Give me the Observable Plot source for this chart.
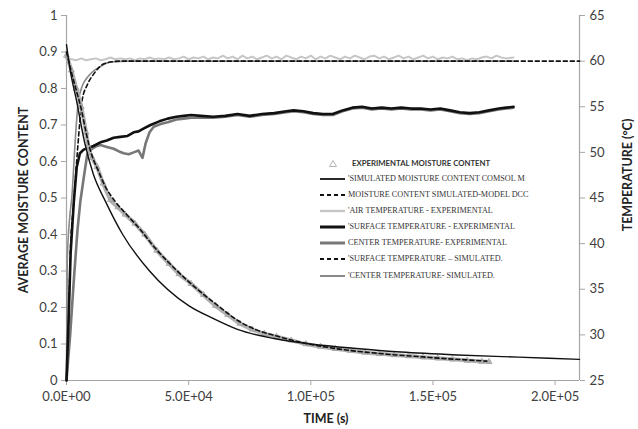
<!DOCTYPE html>
<html>
<head>
<meta charset="utf-8">
<script src="https://cdn.jsdelivr.net/npm/d3@7"></script>
<script src="https://cdn.jsdelivr.net/npm/@observablehq/plot@0.6"></script>
<style>
  html, body { margin: 0; padding: 0; background: #fff; }
  #wrap { position: relative; width: 638px; height: 429px; overflow: hidden; }
  .ttl { position: absolute; font-family: Lato, "Open Sans", sans-serif; font-weight: 700; font-size: 12.5px; color: #222; white-space: nowrap; }
  .lg { position: absolute; white-space: nowrap; color: #333; line-height: 1; }
</style>
</head>
<body>
<div id="wrap"></div>
<script>
// ---------- tick labels ----------
const xTicks = [0, 50000, 100000, 150000, 200000];
const xTickLabels = ["0.0E+00", "5.0E+04", "1.0E+05", "1.5E+05", "2.0E+05"];
const moistTicks = [0, 0.1, 0.2, 0.3, 0.4, 0.5, 0.6, 0.7, 0.8, 0.9, 1];
const moistTickLabels = ["0", "0.1", "0.2", "0.3", "0.4", "0.5", "0.6", "0.7", "0.8", "0.9", "1"];
const tempTicks = [25, 30, 35, 40, 45, 50, 55, 60, 65];
const tempTickLabels = ["25", "30", "35", "40", "45", "50", "55", "60", "65"];

// ---------- series: [time (s), value] ----------
const expMoisture = [[0,0.89],[2000,0.85],[4000,0.80],[6000,0.75],[8000,0.68],[9000,0.64],[10500,0.61],[12500,0.585],[15000,0.54],[18000,0.495],[21000,0.475],[24000,0.455],[28000,0.43],[32000,0.40],[37000,0.356],[42000,0.32],[46000,0.292],[51000,0.265],[56000,0.235],[61000,0.205],[66000,0.18],[71000,0.156],[76000,0.14],[81000,0.128],[86000,0.12],[92000,0.11],[98000,0.10],[104000,0.093],[110000,0.087],[116000,0.082],[122000,0.077],[128000,0.073],[134000,0.07],[140000,0.067],[146000,0.064],[152000,0.061],[158000,0.058],[164000,0.055],[170000,0.052],[173000,0.051]];
const comsolMoisture = [[0,0.92],[1500,0.85],[4000,0.77],[7500,0.65],[11000,0.565],[16000,0.49],[23000,0.40],[34000,0.30],[50000,0.205],[60000,0.17],[70000,0.14],[85000,0.115],[100000,0.10],[120000,0.087],[137000,0.078],[160000,0.07],[185000,0.064],[210000,0.058]];
const dccMoisture = [[0,0.90],[2000,0.845],[4000,0.795],[6000,0.745],[8000,0.68],[10000,0.625],[13000,0.575],[16000,0.53],[20000,0.49],[25000,0.452],[30000,0.415],[36000,0.365],[42000,0.322],[48000,0.283],[55000,0.242],[62000,0.205],[70000,0.165],[78000,0.138],[86000,0.122],[95000,0.106],[105000,0.093],[115000,0.083],[125000,0.076],[135000,0.07],[145000,0.065],[155000,0.06],[165000,0.056],[172000,0.053]];

const airTempExp = [[0,60.3],[2000,60.2],[4000,60.1],[6000,60.3],[8000,60.1],[10000,60.2],[12000,60.3],[14000,60.1],[16000,60.2],[18000,60.4],[20000,60.2],[22000,60.3],[24000,60.2],[26000,60.3],[28000,60.1],[30000,60.3],[32000,60.2],[34000,60.4],[36000,60.2],[38000,60.3],[40000,60.2],[42000,60.4],[44000,60.2],[46000,60.3],[48000,60.5],[50000,60.2],[52000,60.4],[54000,60.3],[56000,60.5],[58000,60.2],[60000,60.4],[62000,60.3],[64000,60.6],[66000,60.3],[68000,60.5],[70000,60.2],[72000,60.6],[74000,60.3],[76000,60.5],[78000,60.2],[80000,60.4],[82000,60.6],[84000,60.3],[86000,60.5],[88000,60.2],[90000,60.6],[92000,60.4],[94000,60.2],[96000,60.5],[98000,60.3],[100000,60.6],[102000,60.2],[104000,60.5],[106000,60.3],[108000,60.6],[110000,60.4],[112000,60.2],[114000,60.5],[116000,60.3],[118000,60.6],[120000,60.4],[122000,60.2],[124000,60.5],[126000,60.6],[128000,60.3],[130000,60.5],[132000,60.2],[134000,60.4],[136000,60.6],[138000,60.3],[140000,60.5],[142000,60.2],[144000,60.4],[146000,60.6],[148000,60.3],[150000,60.5],[152000,60.2],[154000,60.4],[156000,60.3],[158000,60.5],[160000,60.2],[162000,60.3],[164000,60.1],[166000,60.3],[168000,60.2],[170000,60.4],[172000,60.5],[174000,60.3],[176000,60.6],[178000,60.4],[180000,60.3],[183000,60.4]];
const surfaceTempExp = [[0,25],[900,32],[1700,39],[3000,44.6],[4200,48.4],[5500,49.9],[7000,50.3],[9000,50.5],[11000,50.7],[13900,51.1],[16500,51.3],[19300,51.6],[22000,51.7],[25000,51.8],[27500,52.2],[29500,52.3],[31500,52.6],[34400,53.0],[38000,53.4],[41400,53.7],[45000,53.9],[48000,54.0],[51000,54.1],[55000,54.0],[60000,53.9],[65000,54.0],[70000,54.2],[75000,54.0],[80000,54.2],[85000,54.3],[90000,54.5],[93000,54.6],[97000,54.5],[101000,54.3],[105000,54.2],[109000,54.2],[113000,54.6],[117000,54.9],[121000,55.0],[125000,54.8],[129000,54.9],[133000,54.8],[137000,54.9],[141000,54.8],[145000,54.8],[149000,54.7],[153000,54.8],[157000,54.6],[161000,54.4],[165000,54.3],[169000,54.4],[173000,54.6],[177000,54.8],[180000,54.9],[183000,55.0]];
const centerTempExp = [[0,25],[1500,30],[3000,36],[4500,41.5],[5700,44.7],[7100,47.3],[8500,49.8],[10500,50.4],[12500,50.7],[13900,50.8],[16500,50.6],[19300,50.4],[21500,50.1],[23400,49.9],[25500,49.8],[27500,50.0],[29500,50.2],[31100,49.4],[32400,51.0],[34000,52.2],[35700,52.8],[38500,53.1],[41400,53.3],[45000,53.6],[48000,53.7],[51000,53.8],[55000,53.8],[60000,53.8],[65000,53.9],[70000,54.1],[75000,53.9],[80000,54.1],[85000,54.2],[90000,54.4],[93000,54.5],[97000,54.4],[101000,54.2],[105000,54.1],[109000,54.1],[113000,54.5],[117000,54.8],[121000,54.9],[125000,54.7],[129000,54.8],[133000,54.7],[137000,54.8],[141000,54.7],[145000,54.7],[149000,54.6],[153000,54.7],[157000,54.5],[161000,54.3],[165000,54.2],[169000,54.3],[173000,54.5],[177000,54.7],[180000,54.8],[183000,54.9]];
const surfaceTempSim = [[0,25],[900,31.8],[1600,39.2],[3000,44.6],[4500,50.2],[6400,55.7],[8500,57.4],[11200,58.6],[15300,59.7],[22000,60.0],[40000,60.0],[100000,60.0],[210000,60.0]];
const centerTempSim = [[0,25],[300,38],[1200,42.5],[2300,45.5],[3500,51.0],[4800,55.5],[6500,57.3],[8500,58.2],[11000,58.9],[13900,59.4],[18000,59.9],[25000,60.0],[100000,60.0],[183000,60.0]];

const legendLabels = [
  "EXPERIMENTAL MOISTURE CONTENT",
  "'SIMULATED MOISTURE CONTENT COMSOL M",
  "MOISTURE CONTENT SIMULATED-MODEL DCC",
  "'AIR TEMPERATURE - EXPERIMENTAL",
  "'SURFACE TEMPERATURE - EXPERIMENTAL",
  "CENTER TEMPERATURE- EXPERIMENTAL",
  "'SURFACE TEMPERATURE – SIMULATED.",
  "'CENTER TEMPERATURE- SIMULATED."
];

// ---------- helpers ----------
const toY = T => (T - 25) / 40;   // temperature onto the moisture scale (secondary axis)
const rightTicks = tempTicks.map(toY);
const AX = "#a6a6a6";

const styles = {
  exp:   {stroke: "#b2b2b2", strokeWidth: 4},
  comsol:{stroke: "#111", strokeWidth: 1.4},
  dcc:   {stroke: "#111", strokeWidth: 1.6, strokeDasharray: "4,3"},
  air:   {stroke: "#c6c6c6", strokeWidth: 2},
  surfE: {stroke: "#111", strokeWidth: 2.6},
  centE: {stroke: "#777", strokeWidth: 2.6},
  surfS: {stroke: "#111", strokeWidth: 1.6, strokeDasharray: "4,3"},
  centS: {stroke: "#8a8a8a", strokeWidth: 1.6}
};

const tx = d => d[0];
const smooth = {curve: "monotone-x"};
const chart = Plot.plot({
  width: 638,
  height: 429,
  marginLeft: 66,
  marginRight: 59,
  marginTop: 15,
  marginBottom: 49,
  style: {fontFamily: "Lato, 'Open Sans', sans-serif", fontSize: "13px", color: "#404040", background: "#fff"},
  x: {domain: [0, 210000], axis: null},
  y: {domain: [0, 1], axis: null},
  marks: [
    Plot.axisX({ticks: xTicks, tickFormat: d => xTickLabels[xTicks.indexOf(d)], tickSize: 5, tickPadding: 6, stroke: AX, label: null}),
    Plot.axisY({ticks: moistTicks, tickFormat: d => moistTickLabels[moistTicks.indexOf(d)], tickSize: 5, tickPadding: 4, stroke: AX, label: null}),
    Plot.axisY({anchor: "right", ticks: rightTicks, tickFormat: d => tempTickLabels[rightTicks.indexOf(d)], tickSize: 5, tickPadding: 5, stroke: AX, label: null}),
    Plot.ruleX([0], {stroke: AX, strokeWidth: 1.2}),
    Plot.ruleX([210000], {stroke: AX, strokeWidth: 1.2}),
    Plot.ruleY([0], {stroke: AX, strokeWidth: 1.2}),

    // temperatures (secondary axis)
    Plot.line(airTempExp, {x: tx, y: d => toY(d[1]), ...styles.air}),
    Plot.line(centerTempSim, {x: tx, y: d => toY(d[1]), ...styles.centS, ...smooth}),
    Plot.line(surfaceTempSim, {x: tx, y: d => toY(d[1]), ...styles.surfS, ...smooth}),
    Plot.line(centerTempExp, {x: tx, y: d => toY(d[1]), ...styles.centE}),
    Plot.line(surfaceTempExp, {x: tx, y: d => toY(d[1]), ...styles.surfE}),

    // moisture (primary axis)
    Plot.line(expMoisture, {x: tx, y: d => d[1], ...styles.exp, ...smooth}),
    Plot.dot(expMoisture, {x: tx, y: d => d[1], symbol: "triangle", r: 2.2, stroke: "#9c9c9c", strokeWidth: 0.8, fill: "none"}),
    Plot.line(comsolMoisture, {x: tx, y: d => d[1], ...styles.comsol, ...smooth}),
    Plot.line(dccMoisture, {x: tx, y: d => d[1], ...styles.dcc, ...smooth})
  ]
});

const wrap = document.getElementById("wrap");
wrap.appendChild(chart);

// axis titles
function title(text, left, top, rotate) {
  const el = document.createElement("div");
  el.className = "ttl";
  el.textContent = text;
  el.style.left = left + "px";
  el.style.top = top + "px";
  el.style.transform = "translate(-50%,-50%)" + (rotate ? " rotate(-90deg)" : "");
  wrap.appendChild(el);
}
title("AVERAGE MOISTURE CONTENT", 23, 200, true);
title("TEMPERATURE (°C)", 627, 175, true);
title("TIME (s)", 326, 418, false);

// legend: font sizes fitted to the measured widths of the reference text
const ctx = document.createElement("canvas").getContext("2d");
function fitSize(text, family, weight, target) {
  ctx.font = weight + " 10px " + family;
  return 10 * target / ctx.measureText(text).width;
}
const sansFam = "Lato, 'Open Sans', sans-serif";
const serifFam = "'Liberation Serif', 'DejaVu Serif', serif";
const sansSize = Math.min(9, fitSize("EXPERIMENTAL MOISTURE CONTE", sansFam, 700, 128));
const serifSize = Math.min(10, fitSize("'SIMULATED MOISTURE CONTENT", serifFam, 400, 132));

const legendKeys = [null, "comsol", "dcc", "air", "surfE", "centE", "surfS", "centS"];
const rowY = [164, 179, 195, 211, 227, 243, 259, 276];
legendLabels.forEach((lab, i) => {
  const sw = document.createElementNS("http://www.w3.org/2000/svg", "svg");
  sw.setAttribute("width", 28); sw.setAttribute("height", 10);
  sw.style.position = "absolute"; sw.style.left = "319px"; sw.style.top = (rowY[i] - 5) + "px";
  if (i === 0) {
    const p = document.createElementNS(sw.namespaceURI, "path");
    p.setAttribute("d", "M14,1.5 L17.5,7.5 L10.5,7.5 Z");
    p.setAttribute("fill", "none"); p.setAttribute("stroke", "#aaa"); p.setAttribute("stroke-width", "0.9");
    sw.appendChild(p);
  } else {
    const s = styles[legendKeys[i]];
    const l = document.createElementNS(sw.namespaceURI, "line");
    l.setAttribute("x1", 1); l.setAttribute("x2", 26); l.setAttribute("y1", 5); l.setAttribute("y2", 5);
    l.setAttribute("stroke", s.stroke); l.setAttribute("stroke-width", Math.min(3, s.strokeWidth + 0.4));
    if (s.strokeDasharray) l.setAttribute("stroke-dasharray", s.strokeDasharray);
    sw.appendChild(l);
  }
  wrap.appendChild(sw);
  const t = document.createElement("div");
  t.className = "lg";
  t.textContent = lab;
  if (i === 0) {
    t.style.fontFamily = sansFam; t.style.fontWeight = "700"; t.style.fontSize = sansSize + "px";
    t.style.left = "352px";
  } else {
    t.style.fontFamily = serifFam; t.style.fontSize = serifSize + "px";
    t.style.left = "348px";
  }
  t.style.top = rowY[i] + "px";
  t.style.transform = "translateY(-50%)";
  wrap.appendChild(t);
});
</script>
</body>
</html>
